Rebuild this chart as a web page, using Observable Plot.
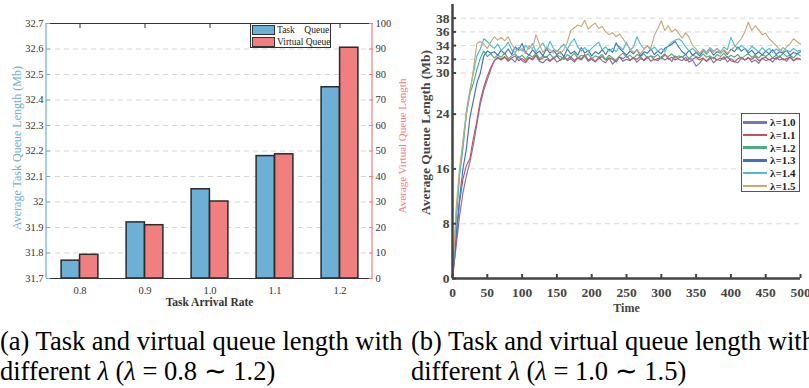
<!DOCTYPE html>
<html>
<head>
<meta charset="utf-8">
<script src="https://cdn.jsdelivr.net/npm/d3@7"></script>
<script src="https://cdn.jsdelivr.net/npm/@observablehq/plot@0.6"></script>
<style>
  html, body { margin: 0; padding: 0; background: #fff; }
  #wrap { position: relative; width: 809px; height: 388px; overflow: hidden; background: #fff; font-family: 'Liberation Serif', 'Times New Roman', serif; }
  #left, #right { position: absolute; top: 0; }
  #left { left: 0; }
  #right { left: 410px; }
  .cap { position: absolute; font-family: 'Liberation Serif', 'Times New Roman', serif; font-size: 26.5px; line-height: 30px; color: #000; white-space: nowrap; }
  .legA { position: absolute; left: 250px; top: 23px; width: 79px; height: 23px; border: 1.5px solid #333; background: #fff; font-size: 9.5px; color: #222; }
  .legA .row { position: absolute; left: 1px; height: 10px; display: flex; align-items: center; }
  .legA .sw { width: 21px; height: 8px; border: 1.4px solid #333; margin-right: 2px; }
  .legA .tx { white-space: pre; }
  .legB { position: absolute; left: 741px; top: 113px; width: 57px; height: 77px; border: 1.5px solid #555; background: #fff; font-size: 11px; font-weight: bold; color: #222; }
  .legB .row { position: absolute; left: 1px; height: 12px; display: flex; align-items: center; }
  .legB .ln { width: 24px; height: 2.5px; margin-right: 3px; }
</style>
</head>
<body>
<div id="wrap">
  <div id="left"></div>
  <div id="right"></div>
  <div class="legA" id="legA"></div>
  <div class="legB" id="legB"></div>
  <div class="cap" style="left:0px; top:326px;">(a) Task and virtual queue length with<br>different <i>λ</i> (<i>λ</i> = 0.8 ∼ 1.2)</div>
  <div class="cap" style="left:411px; top:326px;">(b) Task and virtual queue length with<br>different <i>λ</i> (<i>λ</i> = 1.0 ∼ 1.5)</div>
</div>
<script>
// ---------- Panel (a) data ----------
const rates = ["0.8", "0.9", "1.0", "1.1", "1.2"];
const taskQueue = [31.77, 31.92, 32.05, 32.18, 32.45];
const virtualQueue = [9.3, 20.9, 30.2, 48.7, 90.5];
const leftTicks = [31.7, 31.8, 31.9, 32.0, 32.1, 32.2, 32.3, 32.4, 32.5, 32.6, 32.7];
const rightTicks = [0, 10, 20, 30, 40, 50, 60, 70, 80, 90, 100];
const seriesA = ["Task    Queue", "Virtual Queue"];
const colorsA = ["#6cb0d6", "#f08080"];

// ---------- Panel (b) data ----------
const time = [
  0, 5, 10, 15, 20, 25, 30, 35, 40, 45,
  50, 55, 60, 65, 70, 75, 80, 85, 90, 95,
  100, 105, 110, 115, 120, 125, 130, 135, 140, 145,
  150, 155, 160, 165, 170, 175, 180, 185, 190, 195,
  200, 205, 210, 215, 220, 225, 230, 235, 240, 245,
  250, 255, 260, 265, 270, 275, 280, 285, 290, 295,
  300, 305, 310, 315, 320, 325, 330, 335, 340, 345,
  350, 355, 360, 365, 370, 375, 380, 385, 390, 395,
  400, 405, 410, 415, 420, 425, 430, 435, 440, 445,
  450, 455, 460, 465, 470, 475, 480, 485, 490, 495,
  500];
const lam10 = [
  0, 4.5, 9, 12.5, 15, 17, 19.5, 22.5, 25.5, 27.5,
  29, 30.5, 31.8, 32.2, 31.9, 32.3, 31.7, 32.1, 31.6, 32.4,
  31.8, 31.5, 32.2, 31.9, 32.5, 31.7, 31.5, 32, 31.7, 32.3,
  31.6, 31.9, 32.4, 31.8, 32.1, 31.6, 32.2, 31.9, 32.5, 31.7,
  32, 31.6, 32.3, 31.8, 31.5, 32.2, 31.3, 31.9, 32.4, 31.7,
  32, 31.8, 32.3, 31.6, 32.1, 31.9, 32.4, 31.7, 32, 31.8,
  32.3, 31.9, 32.2, 31.7, 32.5, 32, 31.8, 32.3, 31.6, 31.9,
  31, 31.4, 32.1, 31.7, 32.3, 31.5, 32, 31.8, 32.4, 31.6,
  32.1, 31.7, 31.5, 32.2, 31.9, 32.3, 31.6, 31.9, 31.4, 32.2,
  31.8, 32, 31.6, 32.3, 31.9, 32.1, 31.7, 32.4, 31.8, 32.2,
  32];
const lam11 = [
  0, 5, 11, 14.5, 16.5, 17.5, 20.5, 23, 26, 28,
  29.5, 30.8, 31.8, 32.3, 32, 32.4, 31.9, 32.2, 32.5, 31.8,
  32.1, 31.7, 32.3, 32, 32.6, 31.9, 32.2, 32.4, 31.8, 32.1,
  32.5, 31.9, 32.2, 32, 32.4, 31.8, 32.3, 32.1, 32.7, 31.9,
  32.2, 31.7, 32.1, 32.4, 31.9, 32.2, 32, 31.6, 32.3, 32.1,
  32.5, 31.9, 32.2, 32, 32.4, 31.8, 32.2, 32.5, 31.9, 32.1,
  32.3, 32.8, 32, 32.3, 31.9, 32.2, 32.4, 31.8, 32.1, 32,
  32.3, 31.9, 32.2, 31.7, 32.1, 32.3, 31.9, 32.2, 32, 32.4,
  31.8, 31.6, 32.1, 32.3, 31.9, 32.2, 32, 32.4, 31.8, 32.1,
  32.3, 31.9, 32.2, 32, 32.5, 31.9, 32.1, 32.3, 31.8, 32.1,
  32];
const lam12 = [
  0, 8, 15, 19, 24, 27, 28.5, 30.5, 32.2, 33.2,
  32.4, 32.8, 32.2, 32.6, 32.3, 32.9, 32.1, 32.5, 32.8, 32.2,
  32.6, 32, 32.7, 32.3, 32.9, 32.1, 32.5, 32.3, 32.8, 32.2,
  32.6, 32.4, 32, 32.7, 32.3, 32.9, 32.2, 32.6, 32.4, 32.8,
  32.1, 32.5, 32.3, 32.7, 32, 32.6, 32.2, 31.8, 32.5, 32.9,
  32.3, 32.6, 32.1, 32.7, 32.4, 32.8, 32.2, 32.5, 32.3, 32.7,
  32.1, 32.6, 32.4, 32.8, 32.2, 32.5, 32.3, 32.7, 32.1, 32.6,
  32.4, 32.2, 32.8, 32.3, 32.5, 32.1, 32.7, 32.4, 32.9, 32.2,
  32.6, 32.3, 32.7, 32.1, 32.5, 32.8, 32.3, 32.6, 32.2, 32.7,
  32.4, 32.8, 32.2, 32.6, 32.3, 32.9, 32.4, 32.6, 32.2, 32.8,
  32.5];
const lam13 = [
  0, 6, 11.5, 16, 19, 23.5, 26, 28.5, 30, 32.5,
  33.2, 32.9, 33.1, 32.6, 33.3, 32.8, 33.5, 32.7, 33.8, 33.4,
  34.3, 33, 32.6, 33.4, 32.8, 33.2, 32.5, 33.6, 32.9, 33.3,
  32.7, 33.1, 32.4, 33.5, 32.8, 33.2, 32.6, 33.7, 32.9, 33.3,
  32.5, 33.1, 32.8, 33.4, 32.7, 33.5, 33, 34.4, 33.6, 33.1,
  32.6, 33.2, 32.8, 33.4, 32.5, 33.1, 32.9, 33.5, 32.7, 33.2,
  32.8, 33.6, 33.9, 34.2, 34.6, 33.8, 33.1, 32.7, 33.3, 32.6,
  33, 32.5, 33.2, 32.8, 33.4, 32.6, 33.1, 32.9, 33.3, 32.7,
  33.5, 33.1, 33.8, 33.2, 33.6, 32.9, 33.3, 32.7, 33.1, 32.6,
  33.2, 32.8, 33.4, 32.7, 33.1, 32.9, 33.3, 32.6, 33, 32.8,
  33.1];
const lam14 = [
  0, 9, 15, 20, 24.5, 27.5, 30, 32.5, 33.5, 35,
  34.6, 34, 33.6, 34.2, 33.3, 33.8, 34.5, 33.4, 33, 33.7,
  33.2, 34, 33.5, 34.3, 33.1, 33.8, 34.4, 33.3, 34.6, 33.6,
  33.1, 33.7, 34.2, 33.5, 34.4, 35, 33.8, 33.2, 33.7, 33.1,
  33.6, 34.1, 34.5, 33.4, 33.8, 33.2, 33.6, 33.1, 33.9, 33.4,
  34.5, 33.3, 33.8, 35.3, 34.2, 33.5, 34, 33.3, 33.8, 33.2,
  33.6, 33.1, 34, 34.5, 34.8, 35, 34.6, 33.8, 33.2, 33.6,
  33.1, 32.8, 33.5, 33, 33.7, 33.2, 33.6, 33.1, 33.8, 33.4,
  35.2, 34.1, 33.5, 34, 33.6, 33.2, 33.9, 33.5, 33.1, 33.7,
  33.2, 33.6, 33, 33.5, 33.2, 33.7, 33.3, 33.1, 33.6, 33.2,
  33.3];
const lam15 = [
  0, 10, 16, 20, 24, 27, 30.5, 34.3, 34.6, 34.2,
  33.6, 34.5, 35.3, 34.8, 35.2, 34.7, 35.3, 34.2, 33.5, 33.2,
  33.6, 32.8, 34, 33.5, 35.6, 34.2, 33, 33.8, 33.4, 32.9,
  33.3, 32.8, 33.4, 34.5, 36.2, 36.6, 37, 36.8, 37.7, 36.4,
  36.9, 37.3, 36.5, 36.8, 36, 35.6, 35.9, 35.3, 35.7, 35,
  34.2, 33.6, 33, 33.4, 32.8, 33.5, 34, 33.6, 35.5, 36.5,
  37.6, 36.2, 36.9, 36, 36.4, 35.8, 35.1, 35.9, 35.2, 34,
  33.5, 32.9, 33.3, 32.7, 33.5, 33, 33.6, 32.8, 33.4, 32.9,
  33.3, 33.8, 34.4, 35, 36, 37.4, 36.2, 36.9, 36.3, 35.6,
  35.8, 35, 34.5, 34, 33.4, 33.1, 33.8, 34.3, 35, 34.6,
  34.2];
const seriesB = ["λ=1.0", "λ=1.1", "λ=1.2", "λ=1.3", "λ=1.4", "λ=1.5"];
const colorsB = ["#7376c1", "#c9505f", "#4dae7b", "#3e72c2", "#4cbcd3", "#c9a878"];
const yTicksB = [0, 8, 16, 24, 30, 32, 34, 36, 38];
const xTicksB = [0, 50, 100, 150, 200, 250, 300, 350, 400, 450, 500];

const SERIF = "'Liberation Serif', 'Times New Roman', serif";

// ---------- Panel (a) ----------
const vScale = d3.scaleLinear().domain([0, 100]).range([31.7, 32.7]);
const barsA = rates.map((r, i) => ({rate: r, task: taskQueue[i], virt: virtualQueue[i]}));

const sideLines = (index, scales, values, dims) => {
  const g = d3.create("svg:g");
  const x0 = dims.marginLeft, x1 = dims.width - dims.marginRight;
  const y0 = dims.marginTop, y1 = dims.height - dims.marginBottom;
  g.append("line").attr("x1", x0).attr("x2", x0).attr("y1", y0).attr("y2", y1).attr("stroke", colorsA[0]).attr("stroke-width", 1.2);
  g.append("line").attr("x1", x1).attr("x2", x1).attr("y1", y0).attr("y2", y1).attr("stroke", colorsA[1]).attr("stroke-width", 1.2);
  return g.node();
};

const plotA = Plot.plot({
  width: 410, height: 315,
  marginTop: 23, marginBottom: 37, marginLeft: 46, marginRight: 38,
  style: {fontFamily: SERIF, fontSize: "10.5px", color: "#333", background: "transparent", overflow: "visible"},
  x: {domain: rates, padding: 0, axis: null},
  y: {domain: [31.7, 32.7], axis: null},
  marks: [
    Plot.gridY(leftTicks.slice(1, -1), {stroke: "#d6d6d6", strokeOpacity: 1, strokeDasharray: "5,4", strokeWidth: 1}),
    Plot.barY(barsA, {x: "rate", y1: 31.7, y2: "task", fill: colorsA[0], stroke: "#2a2a2a", strokeWidth: 1.5, insetLeft: 14.1, insetRight: 32.6}),
    Plot.barY(barsA, {x: "rate", y1: 31.7, y2: d => vScale(d.virt), fill: colorsA[1], stroke: "#2a2a2a", strokeWidth: 1.5, insetLeft: 32.6, insetRight: 14.1}),
    Plot.ruleY([31.7, 32.7], {stroke: "#333", strokeWidth: 1}),
    sideLines,
    Plot.axisX({anchor: "top", tickSize: -4, tickFormat: () => "", label: null, stroke: "#333"}),
    Plot.axisX({anchor: "bottom", tickSize: 0, tickPadding: 8, label: null, fill: "#333", fontFamily: SERIF}),
    Plot.axisY(leftTicks, {anchor: "left", tickSize: -4, tickPadding: 7, label: null, stroke: colorsA[0], fill: "#333", fontFamily: SERIF, tickFormat: d => d3.format(".1f")(d).replace(/\.0$/, "")}),
    Plot.axisY(rightTicks.map(v => vScale(v)), {anchor: "right", tickSize: -4, tickPadding: 7, label: null, stroke: colorsA[1], fill: "#333", fontFamily: SERIF, tickFormat: d => String(Math.round(vScale.invert(d)))}),
    Plot.text(["Task Arrival Rate"], {frameAnchor: "bottom", lineAnchor: "middle", textAnchor: "middle", dy: 24, text: d => d, fontWeight: "bold", fontSize: 11.5, fill: "#333", fontFamily: SERIF}),
    Plot.text(["Average Task Queue Length (Mb)"], {frameAnchor: "left", textAnchor: "middle", lineAnchor: "middle", dx: -29, dy: -3, rotate: -90, text: d => d, fontSize: 12, fill: colorsA[0], fontFamily: SERIF}),
    Plot.text(["Average Virtual Queue Length"], {frameAnchor: "right", textAnchor: "middle", lineAnchor: "middle", dx: 30, dy: -5, rotate: -90, text: d => d, fontSize: 11, fill: colorsA[1], fontFamily: SERIF})
  ]
});
document.getElementById("left").appendChild(plotA);

// legend (a)
const legA = d3.select("#legA");
seriesA.forEach((s, i) => {
  const row = legA.append("div").attr("class", "row").style("top", (i === 0 ? 1 : 13) + "px");
  row.append("div").attr("class", "sw").style("background", colorsA[i]);
  row.append("span").attr("class", "tx").text(s);
});

// ---------- Panel (b) ----------
const lams = [lam10, lam11, lam12, lam13, lam14, lam15];
const lineData = [];
seriesB.forEach((s, k) => time.forEach((t, i) => lineData.push({series: s, t, v: lams[k][i]})));

const plotB = Plot.plot({
  width: 399, height: 315,
  marginTop: 4, marginBottom: 37, marginLeft: 42, marginRight: 9,
  style: {fontFamily: SERIF, fontSize: "13.5px", color: "#444", background: "transparent", overflow: "visible"},
  x: {domain: [0, 500], axis: null},
  y: {domain: [0, 40], axis: null},
  color: {domain: seriesB, range: colorsB},
  marks: [
    Plot.gridY(yTicksB.slice(1), {stroke: "#d9d9d9", strokeOpacity: 1, strokeDasharray: "5,4", strokeWidth: 1}),
    Plot.line(lineData, {x: "t", y: "v", z: "series", stroke: "series", strokeWidth: 1.15}),
    Plot.axisY(yTicksB, {anchor: "left", tickSize: -4, tickPadding: 7, label: null, fontWeight: "bold", stroke: "#444", fill: "#444", strokeWidth: 2, fontFamily: SERIF}),
    Plot.axisX(xTicksB, {anchor: "bottom", tickSize: -4, tickPadding: 13, label: null, fontWeight: "bold", stroke: "#444", fill: "#444", strokeWidth: 2, fontFamily: SERIF}),
    Plot.ruleX([0], {stroke: "#444", strokeWidth: 2.5}),
    Plot.ruleY([0], {stroke: "#444", strokeWidth: 2.5}),
    Plot.text(["Time"], {frameAnchor: "bottom", lineAnchor: "middle", textAnchor: "middle", dy: 30, text: d => d, fontWeight: "bold", fontSize: 12, fill: "#444", fontFamily: SERIF}),
    Plot.text(["Average Queue Length (Mb)"], {frameAnchor: "left", textAnchor: "middle", lineAnchor: "middle", dx: -27, dy: -9, rotate: -90, text: d => d, fontWeight: "bold", fontSize: 13.5, fill: "#444", fontFamily: SERIF})
  ]
});
document.getElementById("right").appendChild(plotB);

// legend (b)
const legB = d3.select("#legB");
seriesB.forEach((s, i) => {
  const row = legB.append("div").attr("class", "row").style("top", (2.3 + 12.7 * i) + "px");
  row.append("div").attr("class", "ln").style("background", colorsB[i]);
  row.append("span").text(s);
});
</script>
</body>
</html>
